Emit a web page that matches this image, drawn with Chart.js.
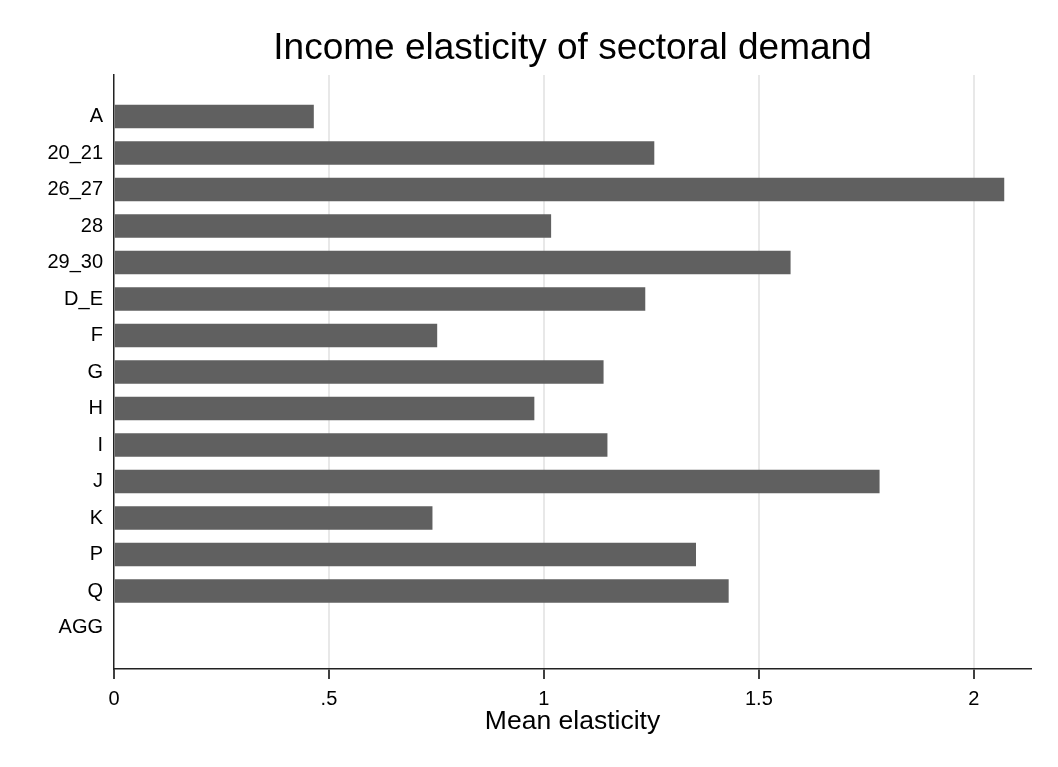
<!DOCTYPE html>
<html>
<head>
<meta charset="utf-8">
<title>Income elasticity of sectoral demand</title>
<script src="https://cdn.jsdelivr.net/npm/chart.js@4"></script>
<style>
  html, body { margin: 0; padding: 0; background: #fff; }
  #wrap { width: 1058px; height: 767px; }
</style>
</head>
<body>
<div id="wrap"><canvas id="elasticityChart" width="1058" height="767"></canvas></div>
<script>
// sectors, top to bottom
const sectors = ["A", "20_21", "26_27", "28", "29_30", "D_E", "F", "G", "H", "I", "J", "K", "P", "Q", "AGG"];
const meanElasticity = [0.464, 1.256, 2.070, 1.016, 1.573, 1.235, 0.751, 1.138, 0.977, 1.147, 1.780, 0.740, 1.353, 1.429, null];

const xTickValues = [0, 0.5, 1, 1.5, 2];
const xTickLabels = ["0", ".5", "1", "1.5", "2"];

const FONT = "'Liberation Sans', Arial, Helvetica, sans-serif";

const points = sectors.map((s, i) => ({ x: meanElasticity[i], y: i }));

new Chart(document.getElementById("elasticityChart"), {
  type: "bar",
  data: {
    datasets: [
      {
        label: "Mean elasticity",
        data: points,
        backgroundColor: "#606060",
        borderWidth: 0,
        barThickness: 23,
      },
    ],
  },
  options: {
    indexAxis: "y",
    responsive: false,
    animation: false,
    layout: { padding: { top: 0, right: 27, bottom: 0, left: 0 } },
    plugins: {
      legend: { display: false },
      tooltip: { enabled: false },
      title: {
        display: true,
        text: "Income elasticity of sectoral demand",
        fullSize: false,
        color: "#000",
        font: { family: FONT, size: 37, weight: "normal" },
        padding: { top: 26.8, bottom: 3.8 },
      },
    },
    scales: {
      x: {
        type: "linear",
        min: 0,
        max: 2.133,
        afterBuildTicks: (scale) => {
          scale.ticks = xTickValues.map((v) => ({ value: v }));
        },
        afterFit: (scale) => {
          scale.height = 98;
        },
        grid: {
          color: (ctx) => (ctx.tick && ctx.tick.value === 0 ? "rgba(0,0,0,0)" : "#e8e8e8"),
          lineWidth: 2,
          tickColor: "#000",
          tickWidth: 1.5,
          tickLength: 10,
        },
        border: { color: "#222", width: 1.5 },
        ticks: {
          color: "#000",
          font: { family: FONT, size: 20 },
          padding: 8,
          maxRotation: 0,
          callback: (value, index) => xTickLabels[index],
        },
        title: {
          display: true,
          text: "Mean elasticity",
          color: "#000",
          font: { family: FONT, size: 26.5 },
          padding: { top: 0, bottom: 29 },
        },
      },
      y: {
        type: "linear",
        reverse: true,
        offset: false,
        min: -1.137,
        max: 15.137,
        afterBuildTicks: (scale) => {
          scale.ticks = sectors.map((s, i) => ({ value: i }));
        },
        afterFit: (scale) => {
          scale.width = 114;
        },
        grid: { display: false, drawTicks: false, offset: false },
        border: { color: "#222", width: 1.5 },
        ticks: {
          color: "#000",
          font: { family: FONT, size: 20 },
          padding: 11,
          autoSkip: false,
          callback: (value) => sectors[value],
        },
      },
    },
  },
});
</script>
</body>
</html>
